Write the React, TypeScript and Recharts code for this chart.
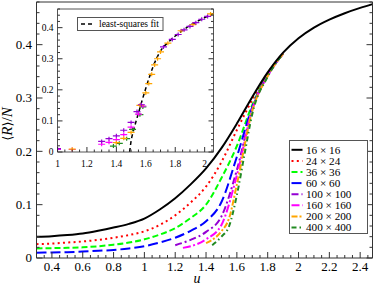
import React from "react"
import { LineChart, Line, XAxis, YAxis, ComposedChart, Scatter } from "recharts"

// ---- main plot data ----
const uMain = [0.3, 0.4, 0.5, 0.6, 0.7, 0.8, 0.9, 1.0, 1.1, 1.2, 1.3, 1.4, 1.5, 1.6, 1.7, 1.8, 1.9, 2.0, 2.1, 2.2, 2.3, 2.4, 2.48]
const r16 = [0.040, 0.041, 0.043, 0.046, 0.051, 0.057, 0.064, 0.074, 0.091, 0.112, 0.138, 0.168, 0.206, 0.252, 0.302, 0.348, 0.385, 0.412, 0.432, 0.447, 0.459, 0.469, 0.476]

const uLow = [0.3, 0.4, 0.5, 0.6, 0.7, 0.8, 0.9, 1.0, 1.1, 1.2, 1.3, 1.4, 1.5, 1.6, 1.7, 1.8, 1.9]
const r24 = [0.026, 0.027, 0.029, 0.031, 0.034, 0.038, 0.043, 0.050, 0.062, 0.080, 0.104, 0.134, 0.180, 0.240, 0.297, 0.346, 0.384]
const r36 = [0.018, 0.0185, 0.019, 0.020, 0.022, 0.025, 0.029, 0.035, 0.044, 0.056, 0.075, 0.100, 0.150, 0.210, 0.287, 0.344, 0.383]
const r60 = [0.010, 0.0105, 0.011, 0.012, 0.0135, 0.015, 0.018, 0.022, 0.029, 0.038, 0.051, 0.069, 0.105, 0.190, 0.283, 0.343, 0.383]

const u100 = [1.2, 1.3, 1.4, 1.5, 1.6, 1.7, 1.8, 1.9]
const r100 = [0.024, 0.034, 0.049, 0.078, 0.165, 0.280, 0.342, 0.383]
const u160 = [1.25, 1.3, 1.4, 1.5, 1.6, 1.7, 1.8, 1.9]
const r160 = [0.019, 0.022, 0.035, 0.062, 0.155, 0.278, 0.341, 0.383]
const u200 = [1.4, 1.45, 1.5, 1.55, 1.6, 1.7, 1.8, 1.9]
const r200 = [0.028, 0.036, 0.050, 0.075, 0.138, 0.276, 0.341, 0.383]
const u400 = [1.44, 1.5, 1.55, 1.6, 1.65, 1.7, 1.8, 1.9]
const r400 = [0.024, 0.040, 0.060, 0.118, 0.195, 0.270, 0.340, 0.383]

const sizeLabels = ["16 × 16", "24 × 24", "36 × 36", "60 × 60", "100 × 100", "160 × 160", "200 × 200", "400 × 400"]

const xMajor = [0.4, 0.6, 0.8, 1, 1.2, 1.4, 1.6, 1.8, 2, 2.2, 2.4]
const yMajor = [0, 0.1, 0.2, 0.3, 0.4]

// ---- inset data ----
const fitU = [1.49, 1.5, 1.52, 1.55, 1.6, 1.65, 1.7, 1.75, 1.8, 1.9, 2.0, 2.06]
const fitV = [0, 0.035, 0.075, 0.125, 0.205, 0.275, 0.325, 0.352, 0.373, 0.407, 0.432, 0.446]

const ptU100 = [1.0, 1.3, 1.35, 1.4, 1.45, 1.5, 1.54, 1.57, 1.72, 1.78, 1.82, 1.86, 1.9, 1.94, 1.98, 2.02]
const ptV100 = [0.011, 0.034, 0.043, 0.052, 0.07, 0.095, 0.13, 0.152, 0.338, 0.362, 0.378, 0.393, 0.404, 0.416, 0.427, 0.436]
const ptU160 = [1.0, 1.1, 1.3, 1.35, 1.4, 1.45, 1.5, 1.55, 1.58]
const ptV160 = [0.008, 0.008, 0.025, 0.031, 0.04, 0.056, 0.08, 0.122, 0.148]
const ptU200 = [1.1, 1.4, 1.45, 1.5, 1.56, 1.6, 1.62, 1.64, 1.66, 1.68, 1.7, 1.75, 1.84, 1.92, 2.04]
const ptV200 = [0.009, 0.03, 0.044, 0.063, 0.15, 0.19, 0.22, 0.25, 0.28, 0.3, 0.322, 0.35, 0.39, 0.41, 0.444]
const ptU400 = [1.38, 1.42, 1.47, 1.51, 1.56, 1.58]
const ptV400 = [0.019, 0.028, 0.043, 0.073, 0.12, 0.145]

const insetXMajor = [1, 1.2, 1.4, 1.6, 1.8, 2]
const insetYMajor = [0, 0.1, 0.2, 0.3, 0.4]

const zip = (us: number[], vs: number[]) => us.map((u, i) => ({ u, v: vs[i] }))

const range = (a: number, b: number, step: number) => {
  const out: number[] = []
  for (let t = a; t <= b + 1e-9; t += step) out.push(Number(t.toFixed(4)))
  return out
}

const series = [
  { name: sizeLabels[0], data: zip(uMain, r16), color: "#000000", dash: undefined, width: 2 },
  { name: sizeLabels[1], data: zip(uLow, r24), color: "#ff0000", dash: "2 3.3", width: 2 },
  { name: sizeLabels[2], data: zip(uLow, r36), color: "#00ff00", dash: "6 3", width: 2 },
  { name: sizeLabels[3], data: zip(uLow, r60), color: "#0000ff", dash: "10 4", width: 2 },
  { name: sizeLabels[4], data: zip(u100, r100), color: "#9400d3", dash: "7 3 2 3", width: 2 },
  { name: sizeLabels[5], data: zip(u160, r160), color: "#ff00ff", dash: "8 2.5 2 2.5", width: 2 },
  { name: sizeLabels[6], data: zip(u200, r200), color: "#ffa500", dash: "6 2 2 2", width: 2 },
  { name: sizeLabels[7], data: zip(u400, r400), color: "#228b22", dash: "5 3 1.5 3", width: 2 },
]

const FONT = "'Liberation Serif', 'Times New Roman', serif"
const fmt = (v: number) => String(Number(v.toFixed(2)))

type Side = "bottom" | "left" | "top" | "right"

function tickRenderer(side: Side, majors: number[], o: { major: number; minor: number; font: number; off: number }) {
  return (props: any) => {
    const { x, y, payload } = props
    const v = payload.value as number
    const isMajor = majors.some((m) => Math.abs(m - v) < 1e-6)
    const len = isMajor ? o.major : o.minor
    let ln = null
    let label = null
    if (side === "bottom") {
      ln = <line x1={x} y1={y} x2={x} y2={y - len} />
      if (isMajor)
        label = (
          <text x={x} y={y + o.off} textAnchor="middle" fontSize={o.font} fontFamily={FONT} fill="#000" stroke="none">
            {fmt(v)}
          </text>
        )
    } else if (side === "left") {
      ln = <line x1={x} y1={y} x2={x + len} y2={y} />
      if (isMajor)
        label = (
          <text x={x - o.off} y={y + o.font * 0.34} textAnchor="end" fontSize={o.font} fontFamily={FONT} fill="#000" stroke="none">
            {fmt(v)}
          </text>
        )
    } else if (side === "top") {
      ln = <line x1={x} y1={y} x2={x} y2={y + len} />
    } else {
      ln = <line x1={x} y1={y} x2={x - len} y2={y} />
    }
    return (
      <g stroke="#333" strokeWidth={1}>
        {ln}
        {label}
      </g>
    )
  }
}

function Plus(props: any) {
  const { cx, cy, color } = props
  return (
    <g stroke={color} strokeWidth={1.2}>
      <line x1={cx - 3.5} y1={cy} x2={cx + 3.5} y2={cy} />
      <line x1={cx} y1={cy - 2} x2={cx} y2={cy + 2} />
    </g>
  )
}

export default function App() {
  const xTicks = range(0.3, 2.45, 0.05)
  const yTicks = range(0, 0.48, 0.02)
  const ixTicks = range(1, 2.05, 0.05)
  const iyTicks = range(0, 0.46, 0.02)
  const mainFrame = { stroke: "#333" }
  const mOpt = { major: 6, minor: 3, font: 13, off: 13 }
  const mOptL = { major: 6, minor: 3, font: 13, off: 4.5 }
  const iOpt = { major: 5, minor: 2.5, font: 9.5, off: 14.5 }
  const iOptL = { major: 5, minor: 2.5, font: 9.5, off: 4 }
  const drawOrder = [...series.slice(1), series[0]]

  return (
    <div style={{ position: "absolute", left: 0, top: 0, width: 374, height: 285, background: "#fff" }}>
      <div style={{ position: "absolute", left: 0, top: 0 }}>
        <LineChart width={374} height={285} margin={{ top: 0, right: 0, bottom: 0, left: 0 }}>
          <XAxis
            dataKey="u"
            type="number"
            domain={[0.3, 2.48]}
            allowDataOverflow
            ticks={xTicks}
            interval={0}
            height={27}
            tickSize={0}
            tickMargin={0}
            axisLine={mainFrame}
            tickLine={false}
            tick={tickRenderer("bottom", xMajor, mOpt)}
          />
          <XAxis
            xAxisId="top"
            orientation="top"
            type="number"
            domain={[0.3, 2.48]}
            allowDataOverflow
            ticks={xTicks}
            interval={0}
            height={2}
            tickSize={0}
            tickMargin={0}
            axisLine={mainFrame}
            tickLine={false}
            tick={tickRenderer("top", xMajor, mOpt)}
          />
          <YAxis
            type="number"
            domain={[0, 0.48]}
            allowDataOverflow
            ticks={yTicks}
            interval={0}
            width={36.5}
            tickSize={0}
            tickMargin={0}
            axisLine={mainFrame}
            tickLine={false}
            tick={tickRenderer("left", yMajor, mOptL)}
          />
          <YAxis
            yAxisId="right"
            orientation="right"
            type="number"
            domain={[0, 0.48]}
            allowDataOverflow
            ticks={yTicks}
            interval={0}
            width={1.5}
            tickSize={0}
            tickMargin={0}
            axisLine={mainFrame}
            tickLine={false}
            tick={tickRenderer("right", yMajor, mOptL)}
          />
          {drawOrder.map((s) => (
            <Line
              key={s.name}
              data={s.data}
              dataKey="v"
              type="monotone"
              stroke={s.color}
              strokeWidth={s.width}
              strokeDasharray={s.dash}
              dot={false}
              activeDot={false}
              isAnimationActive={false}
            />
          ))}
        </LineChart>
      </div>

      {/* inset */}
      <div style={{ position: "absolute", left: 0, top: 0 }}>
        <ComposedChart width={214} height={175} margin={{ top: 0, right: 0, bottom: 0, left: 0 }}>
          <XAxis
            dataKey="u"
            type="number"
            domain={[1, 2.06]}
            allowDataOverflow
            ticks={ixTicks}
            interval={0}
            height={23}
            tickSize={0}
            tickMargin={0}
            axisLine={{ stroke: "#555" }}
            tickLine={false}
            tick={tickRenderer("bottom", insetXMajor, iOpt)}
          />
          <XAxis
            xAxisId="top"
            orientation="top"
            type="number"
            domain={[1, 2.06]}
            allowDataOverflow
            ticks={ixTicks}
            interval={0}
            height={9}
            tickSize={0}
            tickMargin={0}
            axisLine={{ stroke: "#555" }}
            tickLine={false}
            tick={tickRenderer("top", insetXMajor, iOpt)}
          />
          <YAxis
            dataKey="v"
            type="number"
            domain={[0, 0.46]}
            allowDataOverflow
            ticks={iyTicks}
            interval={0}
            width={57.5}
            tickSize={0}
            tickMargin={0}
            axisLine={{ stroke: "#555" }}
            tickLine={false}
            tick={tickRenderer("left", insetYMajor, iOptL)}
          />
          <YAxis
            yAxisId="right"
            orientation="right"
            type="number"
            domain={[0, 0.46]}
            allowDataOverflow
            ticks={iyTicks}
            interval={0}
            width={0.5}
            tickSize={0}
            tickMargin={0}
            axisLine={{ stroke: "#555" }}
            tickLine={false}
            tick={tickRenderer("right", insetYMajor, iOptL)}
          />
          <Scatter data={zip(ptU400, ptV400)} dataKey="v" isAnimationActive={false} shape={(p: any) => <Plus {...p} color="#228b22" />} />
          <Scatter data={zip(ptU160, ptV160)} dataKey="v" isAnimationActive={false} shape={(p: any) => <Plus {...p} color="#ff00ff" />} />
          <Scatter data={zip(ptU200, ptV200)} dataKey="v" isAnimationActive={false} shape={(p: any) => <Plus {...p} color="#ffa500" />} />
          <Scatter data={zip(ptU100, ptV100)} dataKey="v" isAnimationActive={false} shape={(p: any) => <Plus {...p} color="#9400d3" />} />
          <Line
            data={zip(fitU, fitV)}
            dataKey="v"
            type="monotone"
            stroke="#000"
            strokeWidth={1.5}
            strokeDasharray="4 3"
            dot={false}
            activeDot={false}
            isAnimationActive={false}
          />
        </ComposedChart>
      </div>

      {/* labels and legends */}
      <svg width={374} height={285} style={{ position: "absolute", left: 0, top: 0, pointerEvents: "none" }}>
        <text x={12} y={124} transform="rotate(-90 12 124)" textAnchor="middle" fontSize={15} fontFamily={FONT}>
          <tspan fontFamily="'DejaVu Serif', serif" fontSize={13}>⟨</tspan>
          <tspan fontStyle="italic">R</tspan>
          <tspan fontFamily="'DejaVu Serif', serif" fontSize={13}>⟩</tspan>
          <tspan>/</tspan>
          <tspan fontStyle="italic">N</tspan>
        </text>
        <text x={197} y={283} textAnchor="middle" fontSize={14} fontStyle="italic" fontFamily={FONT}>
          u
        </text>

        <rect x={289.5} y={140.5} width={78} height={93} fill="#fff" stroke="#555" strokeWidth={1} />
        {series.map((s, i) => {
          const cy = 149.8 + i * 11.1
          return (
            <g key={s.name}>
              <line x1={291.5} y1={cy} x2={302.5} y2={cy} stroke={s.color} strokeWidth={2} strokeDasharray={s.dash} />
              <text x={306} y={cy + 3.8} fontSize={11.2} fontFamily={FONT}>
                {s.name}
              </text>
            </g>
          )
        })}

        <rect x={77.5} y={17.5} width={85.5} height={13} fill="#fff" stroke="#555" strokeWidth={1} />
        <line x1={81} y1={24} x2={94} y2={24} stroke="#000" strokeWidth={1.5} strokeDasharray="4 3" />
        <text x={99} y={27.3} fontSize={9.5} fontFamily={FONT}>
          least-squares fit
        </text>
      </svg>
    </div>
  )
}
